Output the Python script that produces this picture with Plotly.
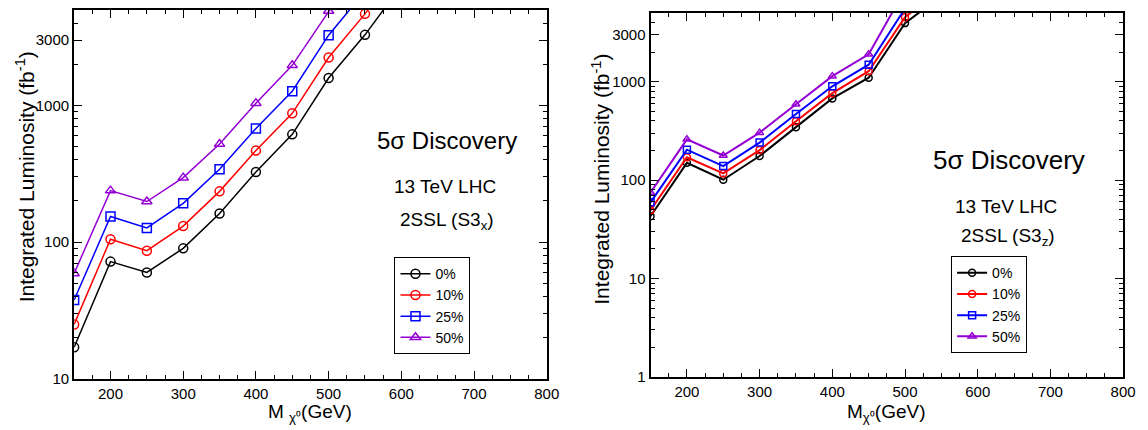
import plotly.graph_objects as go

# ---------------- data ----------------
mass = [150, 200, 250, 300, 350, 400, 450, 500, 550, 600]
series_names = ["0%", "10%", "25%", "50%"]

# left panel: 2SSL (S3_x)
left_0 = [17, 72, 60, 90, 162, 326, 614, 1585, 3280, 7500]
left_10 = [25, 105, 86.5, 131, 235, 467, 875, 2240, 4670, 10500]
left_25 = [37.7, 154, 127, 192, 341, 678, 1270, 3260, 6840, 14000]
left_50 = [59, 238, 198, 296, 521, 1038, 1963, 4900, 12000, 25000]

# right panel: 2SSL (S3_z)
right_0 = [43, 150, 101, 176, 346, 678, 1100, 3950, 7460, 14000]
right_10 = [49.5, 171, 117, 202, 397, 766, 1282, 4530, 9000, 17000]
right_25 = [59.5, 204, 139, 241, 470, 900, 1492, 5560, 11000, 20000]
right_50 = [75, 260, 178, 304, 591, 1142, 1905, 8600, 16000, 30000]

x_ticks = [200, 300, 400, 500, 600, 700, 800]
x_minor = [v for v in range(175, 800, 25) if v % 100 != 0]
left_yticks = [10, 100, 1000, 3000]
right_yticks = [1, 10, 100, 1000, 3000]

colors = ["#000000", "#ff0000", "#0000ff", "#9400d3"]
symbols = ["circle-open", "circle-open", "square-open", "triangle-up-open"]


def log_minor(lo_dec, hi_dec, majors):
    vals = []
    for d in range(lo_dec, hi_dec):
        for m in range(2, 10):
            v = m * 10 ** d
            if v not in majors and v <= 5000:
                vals.append(v)
    return vals


fig = go.Figure()

for name, ys, c, s in zip(series_names, [left_0, left_10, left_25, left_50], colors, symbols):
    fig.add_trace(go.Scatter(
        x=mass, y=ys, name=name, mode="lines+markers",
        line=dict(color=c, width=1.5),
        marker=dict(symbol=s, size=9, color=c, line=dict(color=c, width=1.5)),
        xaxis="x", yaxis="y", legend="legend"))

for name, ys, c, s in zip(series_names, [right_0, right_10, right_25, right_50], colors, symbols):
    fig.add_trace(go.Scatter(
        x=mass, y=ys, name=name, mode="lines+markers",
        line=dict(color=c, width=2),
        marker=dict(symbol=s, size=7, color=c, line=dict(color=c, width=1.5)),
        xaxis="x2", yaxis="y2", legend="legend2"))

tickfont = dict(family="Liberation Sans, Arial, sans-serif", size=15, color="black")

xcommon = dict(
    range=[150, 800], tickmode="array", tickvals=x_ticks,
    ticks="inside", ticklen=8, tickwidth=1, tickcolor="black",
    showline=True, linewidth=2, linecolor="black", mirror="allticks",
    showgrid=False, zeroline=False, tickfont=tickfont,
    minor=dict(tickmode="array", tickvals=x_minor, ticks="inside",
               ticklen=4, tickwidth=1, tickcolor="black", showgrid=False),
)

ycommon = dict(
    type="log", ticks="inside", ticklen=8, tickwidth=1, tickcolor="black",
    showline=True, linewidth=2, linecolor="black", mirror="allticks",
    showgrid=False, zeroline=False, tickfont=tickfont, tickmode="array",
)

legend_common = dict(xanchor="left", yanchor="top", bordercolor="black", borderwidth=1,
                     bgcolor="white", font=dict(size=14), tracegroupgap=0, itemwidth=30)

fig.update_layout(
    width=1148, height=430,
    margin=dict(l=0, r=0, t=0, b=0),
    paper_bgcolor="white", plot_bgcolor="white",
    font=dict(family="Liberation Sans, Arial, sans-serif", color="black"),
    xaxis=dict(domain=[75 / 1148, 553 / 1148], anchor="y", **xcommon),
    yaxis=dict(domain=[1 - 386 / 430, 1 - 10 / 430], anchor="x",
               range=[1, 3.699], tickvals=left_yticks,
               ticktext=[str(v) for v in left_yticks],
               minor=dict(tickmode="array", tickvals=log_minor(1, 4, left_yticks),
                          ticks="inside", ticklen=4, tickwidth=1,
                          tickcolor="black", showgrid=False),
               **ycommon),
    xaxis2=dict(domain=[658 / 1148, 1136 / 1148], anchor="y2", **xcommon),
    yaxis2=dict(domain=[1 - 384 / 430, 1 - 13.3 / 430], anchor="x2",
                range=[0, 3.699], tickvals=right_yticks,
                ticktext=[str(v) for v in right_yticks],
                minor=dict(tickmode="array", tickvals=log_minor(0, 4, right_yticks),
                           ticks="inside", ticklen=4, tickwidth=1,
                           tickcolor="black", showgrid=False),
                **ycommon),
    legend=dict(x=399 / 1148, y=1 - 262 / 430, **legend_common),
    legend2=dict(x=962 / 1148, y=1 - 261 / 430, **legend_common),
    showlegend=True,
)

ann = [
    dict(text="5σ Discovery", x=452 / 1148, y=1 - 143 / 430, size=24),
    dict(text="13 TeV LHC", x=450 / 1148, y=1 - 190 / 430, size=19),
    dict(text="2SSL (S3<sub>x</sub>)", x=452 / 1148, y=1 - 225 / 430, size=19),
    dict(text="5σ Discovery", x=1021 / 1148, y=1 - 163 / 430, size=26),
    dict(text="13 TeV LHC", x=1018 / 1148, y=1 - 210 / 430, size=19),
    dict(text="2SSL (S3<sub>z</sub>)", x=1020 / 1148, y=1 - 241 / 430, size=19),
    dict(text="M <sub>χ⁰</sub>(GeV)", x=314 / 1148, y=1 - 421 / 430, size=19),
    dict(text="M<sub>χ⁰</sub>(GeV)", x=897 / 1148, y=1 - 421 / 430, size=19),
]
for a in ann:
    fig.add_annotation(text=a["text"], x=a["x"], y=a["y"], xref="paper", yref="paper",
                       showarrow=False, xanchor="center", yanchor="middle",
                       font=dict(size=a["size"], color="black"))

fig.add_annotation(text="Integrated Luminosity (fb<sup>-1</sup>)", x=25 / 1148, y=1 - 180 / 430,
                   xref="paper", yref="paper", showarrow=False, textangle=-90,
                   xanchor="center", yanchor="middle", font=dict(size=21, color="black"))
fig.add_annotation(text="Integrated Luminosity (fb<sup>-1</sup>)", x=607 / 1148, y=1 - 183 / 430,
                   xref="paper", yref="paper", showarrow=False, textangle=-90,
                   xanchor="center", yanchor="middle", font=dict(size=21, color="black"))

fig.write_html("out.html",
               post_script="document.body.style.margin='0';document.body.style.overflow='hidden';")
